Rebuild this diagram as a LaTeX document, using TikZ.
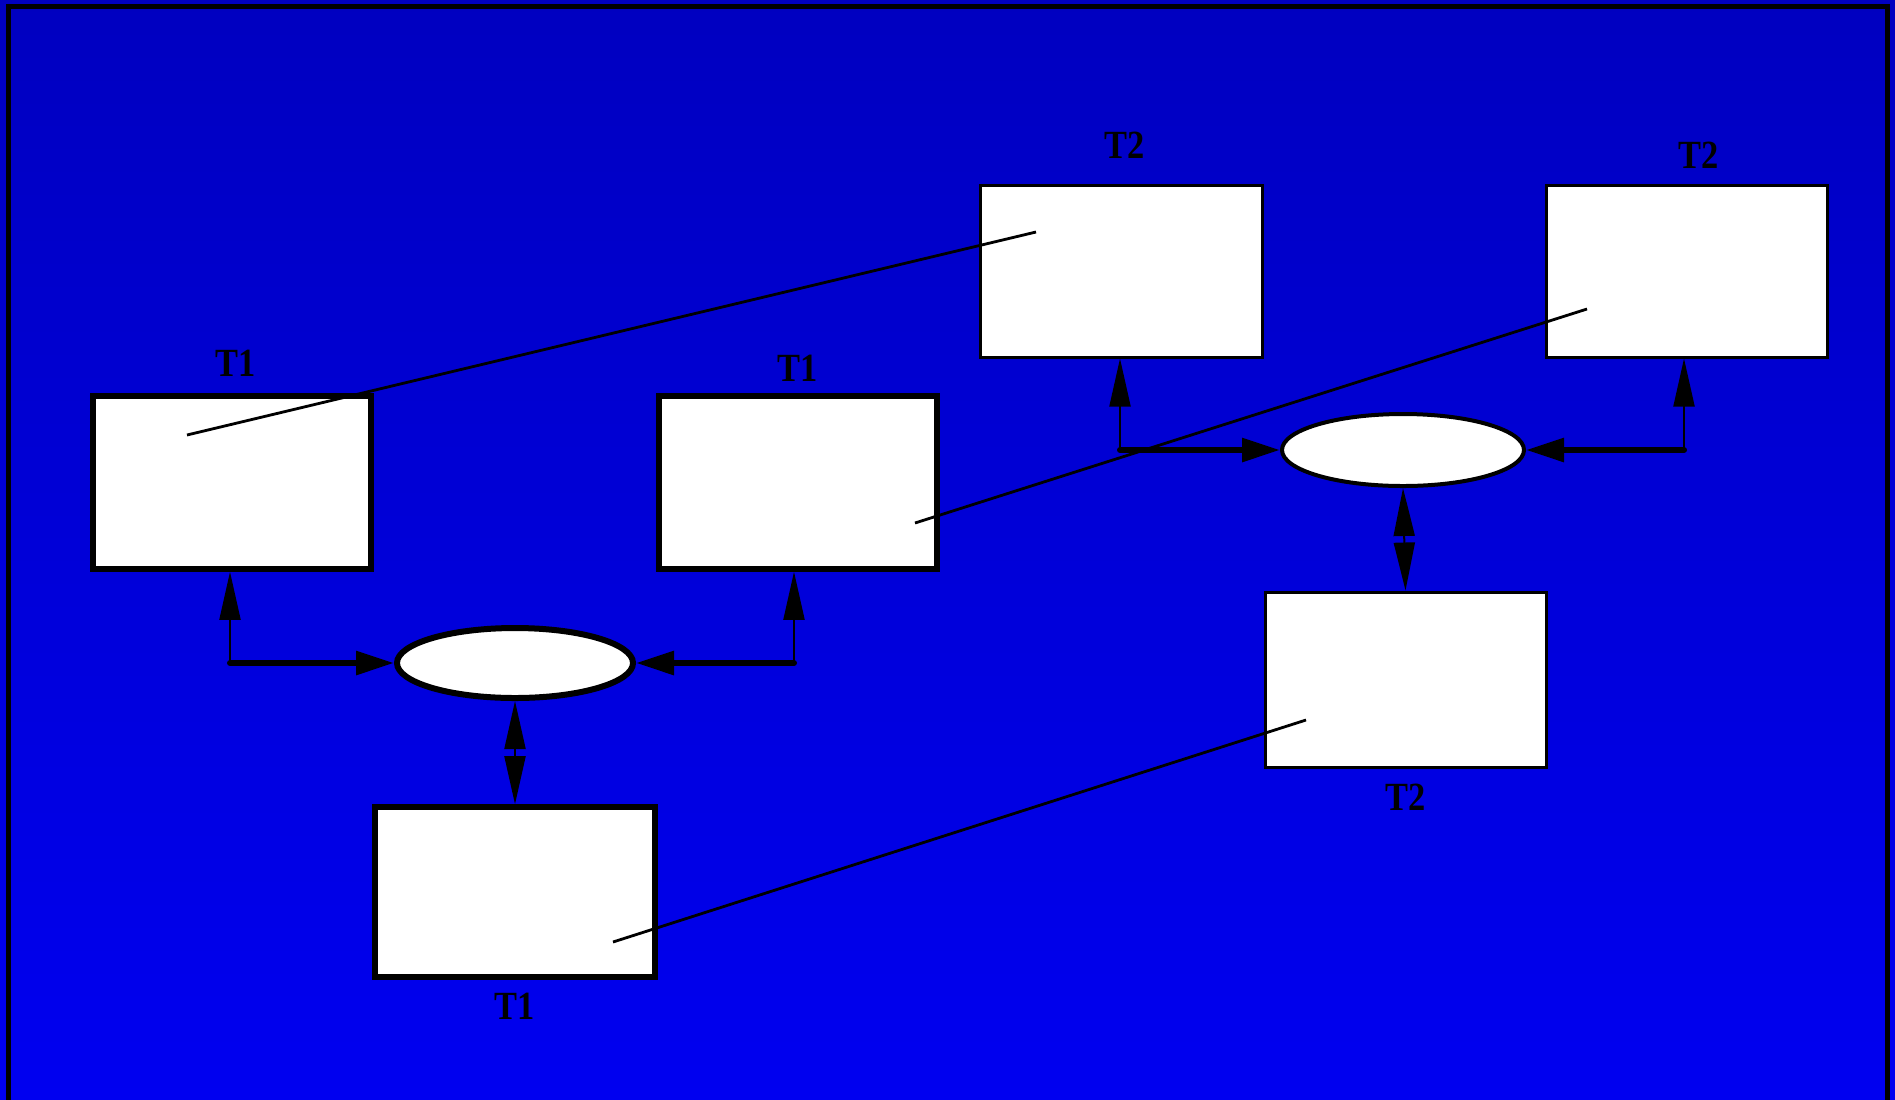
\documentclass[tikz,border=0pt]{standalone}
\usepackage{fontspec}
\setmainfont{Liberation Serif}
\newfontfamily\lblfont[FakeStretch=0.86]{Liberation Serif}
\usetikzlibrary{positioning,shapes.geometric,arrows.meta}

\definecolor{bgtop}{RGB}{0,0,192}
\definecolor{bgbot}{RGB}{0,0,240}

\tikzset{
  thickbox/.style={draw, fill=white, line width=2.8pt, inner sep=0pt,
    minimum width=139pt, minimum height=86.5pt},
  thinbox/.style={draw, fill=white, line width=1.5pt, inner sep=0pt,
    minimum width=141pt, minimum height=86pt},
  place/.style={ellipse, draw, fill=white, inner sep=0pt},
  lbl/.style={inner sep=0pt, font=\lblfont\bfseries\fontsize{20}{22}\selectfont},
  vtip/.tip={Triangle[length=24pt,width=10.5pt]},
  htip/.tip={Triangle[length=19pt,width=11.5pt]},
  upline/.style={-vtip, line width=1pt},
  sideline/.style={-htip, line width=3pt, line cap=round},
  bothline/.style={vtip-vtip, line width=1pt},
  link/.style={line width=1.4pt}
}

\begin{document}
\begin{tikzpicture}[x=0.5pt,y=-0.5pt]
  \useasboundingbox (0,0) rectangle (1895,1099);
  \fill[top color=bgtop, bottom color=bgbot] (0,0) rectangle (1895,1099);
  \draw[line width=2.5pt] (8.5,1110) |- (1887,6.5) -- (1887,1110);

  %Define nodes
  \node[thickbox] (a1) at (232,482.5) {};
  \node[thickbox] (a2) at (798,482.5) {};
  \node[thickbox, minimum width=140pt, minimum height=85pt] (a3) at (515,892) {};
  \node[place, line width=3pt, minimum width=118pt, minimum height=35pt] (p1) at (515,663) {};

  \node[thinbox] (b1) at (1121,271) {};
  \node[thinbox, minimum width=140.5pt] (b2) at (1686.5,271) {};
  \node[thinbox, minimum width=140.5pt, minimum height=87.5pt] (b3) at (1405.5,679.5) {};
  \node[place, line width=2pt, minimum width=121pt, minimum height=36pt] (p2) at (1403,450) {};

  \node[lbl, above=8pt of a1, xshift=2pt] (la1) {T1};
  \node[lbl, above=5.5pt of a2] (la2) {T1};
  \node[lbl, below=6.5pt of a3] (la3) {T1};
  \node[lbl, above=12.5pt of b1, xshift=2pt] (lb1) {T2};
  \node[lbl, above=7.5pt of b2, xshift=6pt] (lb2) {T2};
  \node[lbl, below=7.5pt of b3] (lb3) {T2};

  \coordinate (c1) at (230,663);
  \coordinate (c2) at (794,663);
  \coordinate (c3) at (1120,450);
  \coordinate (c4) at (1684,450);

  % Connect the nodes
  \draw[upline] (c1) -- (c1 |- a1.south);
  \draw[upline] (c2) -- (c2 |- a2.south);
  \draw[sideline] (c1) -- (p1.west);
  \draw[sideline] (c2) -- (p1.east);
  \draw[bothline] (p1.south) -- (a3.north);

  \draw[upline] (c3) -- (c3 |- b1.south);
  \draw[upline] (c4) -- (c4 |- b2.south);
  \draw[sideline] (c3) -- (p2.west);
  \draw[sideline] (c4) -- (p2.east);
  \draw[bothline] (p2.south) -- (b3.north);

  % Links between the boxes
  \coordinate (d1) at (187,435);
  \coordinate (e1) at (1036,232);
  \coordinate (d2) at (915,523);
  \coordinate (e2) at (1587,309);
  \coordinate (d3) at (613,942);
  \coordinate (e3) at (1306,720);
  \draw[link] (d1) -- (e1);
  \draw[link] (d2) -- (e2);
  \draw[link] (d3) -- (e3);

\end{tikzpicture}
\end{document}
